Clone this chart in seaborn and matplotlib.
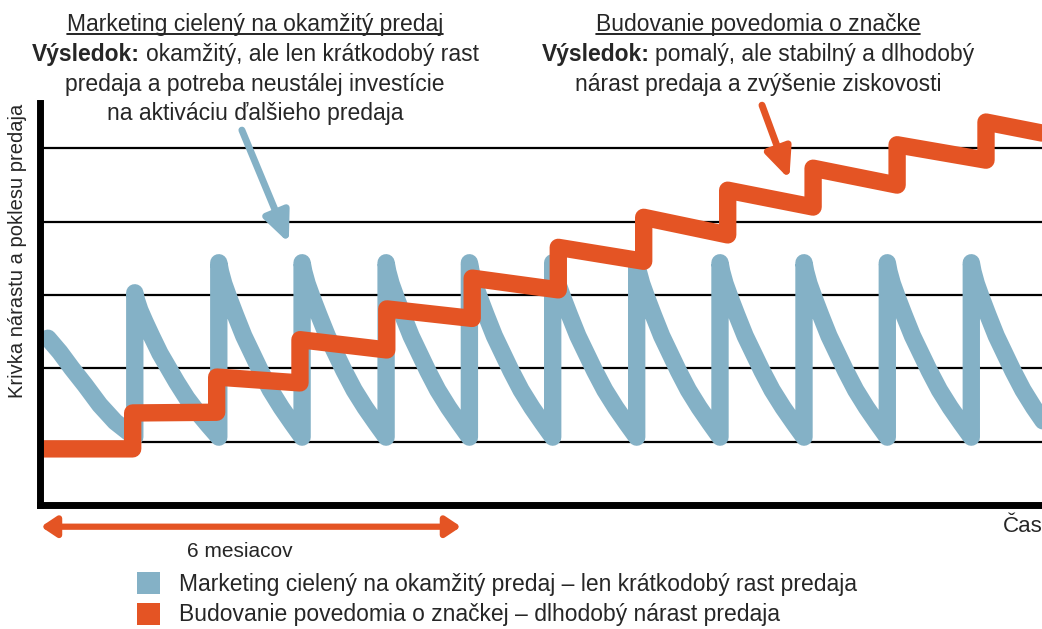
import matplotlib
matplotlib.use("Agg")
import matplotlib.pyplot as plt
from matplotlib import font_manager
from matplotlib.patches import Patch
from matplotlib.lines import Line2D
import pandas as pd
import seaborn as sns

BLUE = '#84b1c6'
ORANGE = '#e45424'

# x in months, y in an index (gridlines at 1..5)
# short-term marketing: saw teeth
blue_start_x = [0.10, 0.27, 0.44, 0.63, 0.84, 1.06]
blue_start_y = [2.41, 2.22, 2.00, 1.77, 1.50, 1.27]
blue_rise_x = [1.34, 2.54, 3.73, 4.93, 6.12, 7.31, 8.51, 9.70, 10.90, 12.09, 13.29, 14.48]
blue_peak_y = [3.03, 3.44, 3.44, 3.44, 3.44, 3.44, 3.44, 3.44, 3.44, 3.44, 3.44]
blue_low_y = 1.06
# shape of one tooth (fraction of period, fraction of drop)
tooth_dx = [0.0, 0.02, 0.06, 0.12, 0.20, 0.30, 0.40, 0.50, 0.62, 0.75, 0.88]
tooth_drop = [0.0, 0.05, 0.12, 0.20, 0.30, 0.42, 0.52, 0.62, 0.73, 0.83, 0.92]

# brand building: stairs
orange_step_x = [1.31, 2.51, 3.70, 4.94, 6.16, 7.39, 8.61, 9.81, 11.03, 12.23, 13.50]
orange_seg_start = [0.90, 1.39, 1.88, 2.39, 2.81, 3.23, 3.65, 4.06, 4.43, 4.73, 5.05, 5.36]
orange_seg_end = [0.90, 1.40, 1.80, 2.25, 2.68, 3.07, 3.46, 3.82, 4.20, 4.50, 4.84, 5.21]

labels = ['Marketing cielený na okamžitý predaj – len krátkodobý rast predaja',
          'Budovanie povedomia o značkej – dlhodobý nárast predaja']

XMIN, XMAX = -0.014, 14.3
YMIN, YMAX = 0.134, 5.62

# build the two paths
bx, by = list(blue_start_x), list(blue_start_y)
bx.append(blue_rise_x[0]); by.append(blue_low_y)
for k, peak in enumerate(blue_peak_y):
    x0, x1 = blue_rise_x[k], blue_rise_x[k + 1]
    for dx, dr in zip(tooth_dx, tooth_drop):
        bx.append(x0 + dx * (x1 - x0))
        by.append(peak - dr * (peak - blue_low_y))
    bx.append(x1); by.append(blue_low_y)

ox, oy = [XMIN], [orange_seg_start[0]]
for k, sx in enumerate(orange_step_x):
    ox += [sx, sx]
    oy += [orange_seg_end[k], orange_seg_start[k + 1]]
ox.append(XMAX); oy.append(orange_seg_end[-1])

df = pd.concat([
    pd.DataFrame({'x': bx, 'y': by, 'serie': 'blue'}),
    pd.DataFrame({'x': ox, 'y': oy, 'serie': 'orange'}),
], ignore_index=True)

sns.set_style('white')
names = {f.name for f in font_manager.fontManager.ttflist}
FONT = 'Liberation Sans Narrow' if 'Liberation Sans Narrow' in names else 'Liberation Sans'
plt.rcParams['font.family'] = [FONT, 'DejaVu Sans']

W, H = 1042, 629
fig = plt.figure(figsize=(W / 100, H / 100), dpi=100)
ax = fig.add_axes([40 / W, (H - 505) / H, 1002 / W, 402 / H])

sns.lineplot(data=df, x='x', y='y', hue='serie', palette={'blue': BLUE, 'orange': ORANGE},
             sort=False, estimator=None, lw=12.5, legend=False, ax=ax,
             solid_joinstyle='round', solid_capstyle='round')

ax.set_xlim(XMIN, XMAX)
ax.set_ylim(YMIN, YMAX)
ax.set_yticks([1, 2, 3, 4, 5])
ax.set_xticks([])
ax.tick_params(left=False, labelleft=False)
ax.yaxis.grid(True, color='black', lw=1.6)
ax.set_axisbelow(True)
ax.set_xlabel('')
ax.set_ylabel('')
for s in ['top', 'right']:
    ax.spines[s].set_visible(False)
for s in ['left', 'bottom']:
    ax.spines[s].set_color('black')
    ax.spines[s].set_linewidth(5)

# pointer arrows
ax.annotate('', xy=(3.54, 3.71), xytext=(2.87, 5.25),
            arrowprops=dict(arrowstyle='-|>,head_length=0.45,head_width=0.2', color=BLUE,
                            lw=5, mutation_scale=40, shrinkA=0, shrinkB=0))
ax.annotate('', xy=(10.69, 4.58), xytext=(10.30, 5.59),
            arrowprops=dict(arrowstyle='-|>,head_length=0.45,head_width=0.2', color=ORANGE,
                            lw=5, mutation_scale=40, shrinkA=0, shrinkB=0))

# 6 months span
tr = ax.get_xaxis_transform()
ax.annotate('', xy=(6.0, -0.054), xycoords=tr, xytext=(0.0, -0.054), textcoords=tr,
            annotation_clip=False,
            arrowprops=dict(arrowstyle='<|-|>,head_length=0.45,head_width=0.3', color=ORANGE,
                            lw=4.5, mutation_scale=20, shrinkA=0, shrinkB=0))
ax.text(2.84, -0.116, '6 mesiacov', transform=tr, ha='center', va='center', fontsize=15)

fig.text(1003 / W, 1 - 527 / H, 'Čas', ha='left', va='center', fontsize=16)
fig.text(18 / W, 1 - 251 / H, 'Krivka nárastu a poklesu predaja', rotation=90,
         ha='center', va='center', fontsize=14.5)

# headings above the chart
FS = 16.5
renderer = fig.canvas.get_renderer()


def px(x, y):
    return x / W, 1 - y / H


def heading(cx, base, text):
    t = fig.text(*px(cx, base), text, ha='center', va='baseline', fontsize=FS)
    bb = t.get_window_extent(renderer)
    fig.add_artist(Line2D([bb.x0 / W, bb.x1 / W], [1 - (base + 2) / H] * 2,
                          color='black', lw=1.2))


def rich(cx, base, bold, rest, gap=6):
    t1 = fig.text(0, 0, bold, fontsize=FS, weight='bold', va='baseline')
    t2 = fig.text(0, 0, rest, fontsize=FS, va='baseline')
    w1 = t1.get_window_extent(renderer).width
    w2 = t2.get_window_extent(renderer).width
    x0 = cx - (w1 + gap + w2) / 2
    t1.set_position(px(x0, base))
    t2.set_position(px(x0 + w1 + gap, base))


def plain(cx, base, text):
    fig.text(*px(cx, base), text, ha='center', va='baseline', fontsize=FS)


heading(255, 31.5, 'Marketing cielený na okamžitý predaj')
rich(255, 61, 'Výsledok:', 'okamžitý, ale len krátkodobý rast')
plain(255, 90.5, 'predaja a potreba neustálej investície')
plain(255, 120, 'na aktiváciu ďalšieho predaja')

heading(758, 31.5, 'Budovanie povedomia o značke')
rich(758, 61, 'Výsledok:', 'pomalý, ale stabilný a dlhodobý')
plain(758, 90.5, 'nárast predaja a zvýšenie ziskovosti')

handles = [Patch(facecolor=BLUE, edgecolor='none'), Patch(facecolor=ORANGE, edgecolor='none')]
fig.legend(handles, labels, loc='upper left', bbox_to_anchor=px(137, 572), frameon=False,
           fontsize=FS, handlelength=1.0, handleheight=1.1, handletextpad=0.85,
           labelspacing=0.3, borderpad=0, borderaxespad=0)

fig.savefig('out.png', dpi=100)
